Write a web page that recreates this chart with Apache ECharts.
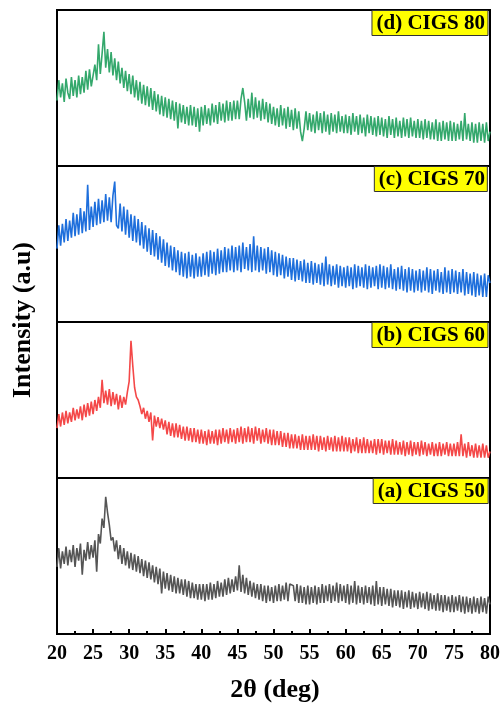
<!DOCTYPE html>
<html>
<head>
<meta charset="utf-8">
<script src="https://cdn.jsdelivr.net/npm/echarts@6/dist/echarts.min.js"></script>
<style>
  html, body { margin: 0; padding: 0; background: #fff; }
  #chart { width: 503px; height: 707px; }
</style>
</head>
<body>
<div id="chart"></div>
<script>
// 2theta sampling: 20 to 80 deg, 0.25 deg step
const thetaStart = 20
const thetaStep = 0.25
const xTicks = [20, 25, 30, 35, 40, 45, 50, 55, 60, 65, 70, 75, 80]

const panelNames = ['(d) CIGS 80', '(c) CIGS 70', '(b) CIGS 60', '(a) CIGS 50']

// intensity (a.u.), one row per 5 deg
const cigs80 = [
  42,55,44,53,41,56,47,43,57,45,55,44,58,46,57,47,61,49,62,51,
  52,65,55,78,59,72,86,63,75,60,73,58,69,55,67,53,63,50,61,48,
  59,46,58,44,55,42,54,40,52,39,51,38,50,36,48,35,46,33,45,32,
  44,31,43,30,42,29,41,24,40,28,39,27,38,26,39,26,38,25,37,22,
  38,26,39,27,37,26,40,28,39,27,41,29,40,28,42,29,41,29,42,30,
  42,30,43,50,41,29,43,31,47,30,44,31,42,29,43,30,41,28,40,27,
  38,26,37,25,39,26,37,24,38,25,36,23,37,24,35,22,16,24,35,23,
  34,22,33,21,35,23,34,21,35,22,33,20,34,22,33,21,35,22,32,21,
  33,21,32,20,34,22,32,20,33,21,31,19,33,21,32,20,31,19,32,20,
  31,19,30,18,32,20,30,18,31,19,29,18,31,19,30,18,31,19,29,18,
  30,18,29,17,30,18,29,17,28,17,30,16,28,16,29,17,28,16,29,16,
  28,16,27,17,29,16,34,17,27,16,28,15,27,15,28,16,27,15,28,16,
  22
]
const cigs70 = [
  47,62,49,63,51,66,52,65,54,70,55,69,56,73,57,71,58,88,59,74,
  61,77,62,79,63,78,64,82,65,80,64,81,90,62,60,76,58,74,56,72,
  54,69,52,68,51,66,49,64,47,62,45,60,43,59,42,57,40,55,38,53,
  36,51,35,49,33,48,32,46,30,45,29,44,28,45,29,43,28,44,29,42,
  29,44,30,45,29,46,31,45,30,47,31,46,32,48,32,47,33,49,32,48,
  33,49,32,51,34,48,33,50,32,55,33,49,32,48,33,47,31,48,32,46,
  30,45,29,44,30,43,28,42,29,41,27,41,26,40,27,39,26,40,25,38,
  25,39,24,38,25,37,24,38,23,42,24,37,23,36,24,37,22,36,23,35,
  22,36,23,35,21,37,22,36,23,35,22,37,21,36,22,35,23,36,21,37,
  22,36,21,35,22,37,21,34,20,35,21,36,20,34,19,35,20,34,19,33,
  20,34,19,33,20,35,19,34,18,33,20,34,19,32,18,35,19,33,18,34,
  19,33,18,32,19,34,17,32,18,31,17,32,16,31,17,30,16,31,16,30,
  25
]
const cigs60 = [
  32,41,33,42,34,43,35,42,36,45,37,44,38,46,37,47,39,48,40,49,
  41,50,43,52,45,63,48,56,47,57,46,55,47,54,44,53,45,52,47,55,
  62,88,72,58,52,50,46,41,45,38,43,36,42,24,40,33,39,32,38,31,
  37,28,36,27,35,26,35,26,34,25,33,24,33,24,32,23,32,23,31,22,
  31,22,30,21,31,22,30,22,31,21,31,22,32,23,31,22,32,23,31,22,
  32,23,33,22,32,23,33,23,32,22,33,24,32,22,31,23,32,22,31,21,
  31,21,30,21,30,20,29,20,29,19,28,19,28,19,27,18,28,18,27,18,
  27,18,28,18,27,17,27,18,26,17,27,18,26,17,27,17,26,17,27,17,
  26,17,26,16,25,17,26,16,25,16,26,16,25,16,24,16,25,15,25,16,
  25,15,24,16,24,15,25,15,24,15,23,15,24,14,23,15,24,14,23,15,
  23,14,24,15,23,14,22,15,23,14,22,14,23,14,22,15,23,14,22,14,
  22,14,23,14,28,14,22,13,23,14,21,13,22,13,21,13,22,13,21,13,
  17
]
const cigs50 = [
  43,55,42,53,45,56,44,54,46,57,43,55,47,58,38,54,47,59,48,57,
  49,60,40,64,58,74,68,88,78,70,60,62,53,60,48,57,45,55,44,53,
  42,52,41,51,40,50,39,48,37,47,36,46,35,44,33,43,32,42,26,40,
  29,39,28,38,27,37,26,36,26,35,25,35,24,34,23,33,23,32,22,32,
  22,32,21,32,22,33,22,32,23,34,24,33,24,35,25,36,26,35,27,37,
  28,44,27,38,26,36,25,34,24,33,23,32,22,32,21,31,20,31,21,30,
  20,31,21,32,21,31,22,33,21,32,33,31,21,32,20,31,20,30,19,31,
  19,30,20,31,19,30,20,32,20,31,21,32,20,31,21,33,20,32,21,31,
  20,32,19,31,20,34,19,31,20,30,19,31,20,30,19,31,18,34,19,30,
  18,30,19,29,18,29,17,28,18,28,17,28,16,27,17,28,16,27,17,26,
  16,27,17,26,16,27,15,26,16,25,15,26,15,25,14,25,15,24,14,25,
  14,24,15,25,14,24,13,24,14,23,13,24,14,23,13,24,14,23,13,24,
  19
]

const panelData = [cigs80, cigs70, cigs60, cigs50]
const colors = ['#34a86c', '#1e6fdc', '#f44848', '#555555']

function drawChart() {
  let myChart = echarts.init(document.getElementById('chart'))
  const serif = '"Liberation Serif", "DejaVu Serif", serif'
  const panelTop = 10
  const panelH = 156
  let grids = [], xAxes = [], yAxes = [], series = [], titles = []

  panelData.forEach((vals, i) => {
    const top = panelTop + i * panelH
    const last = i === panelData.length - 1
    grids.push({
      left: 57, right: 13, top: top, height: panelH,
      show: true, borderColor: '#000', borderWidth: 2, backgroundColor: 'transparent'
    })
    xAxes.push({
      type: 'value', gridIndex: i, min: 20, max: 80, interval: 5,
      axisLine: { show: false },
      splitLine: { show: false },
      axisTick: { show: last, inside: true, length: 5, lineStyle: { color: '#000', width: 2 } },
      minorTick: { show: last, splitNumber: 2, length: 3, lineStyle: { color: '#000', width: 2 } },
      axisLabel: {
        show: last, margin: 10, color: '#000', fontSize: 20, fontWeight: 'bold', fontFamily: serif,
        formatter: v => xTicks.indexOf(v) >= 0 ? String(v) : ''
      }
    })
    yAxes.push({
      type: 'value', gridIndex: i, min: 0, max: 100, show: false
    })
    series.push({
      type: 'line', xAxisIndex: i, yAxisIndex: i,
      data: vals.map((v, k) => [thetaStart + k * thetaStep, v]),
      showSymbol: false, symbol: 'none',
      lineStyle: { color: colors[i], width: 1.6 },
      itemStyle: { color: colors[i] }
    })
    titles.push({
      text: panelNames[i], right: 15, top: top,
      backgroundColor: '#ffff00', borderColor: '#333', borderWidth: 1,
      padding: [3, 3, 2, 5], itemGap: 0,
      textStyle: { color: '#000', fontSize: 21, fontWeight: 'bold', fontFamily: serif }
    })
  })

  let option = {
    animation: false,
    backgroundColor: '#fff',
    title: titles,
    grid: grids,
    xAxis: xAxes,
    yAxis: yAxes,
    series: series,
    graphic: [
      {
        type: 'text', x: 23, y: 320, rotation: Math.PI / 2,
        style: { text: 'Intensity (a.u)', textAlign: 'center', textVerticalAlign: 'middle',
                 font: 'bold 26px ' + serif, fill: '#000' }
      },
      {
        type: 'text', x: 275, y: 690,
        style: { text: '2θ (deg)', textAlign: 'center', textVerticalAlign: 'middle',
                 font: 'bold 26px ' + serif, fill: '#000' }
      }
    ]
  }
  myChart.setOption(option)
  window.addEventListener('resize', function() {
    myChart.resize()
  })
}

drawChart()
</script>
</body>
</html>
